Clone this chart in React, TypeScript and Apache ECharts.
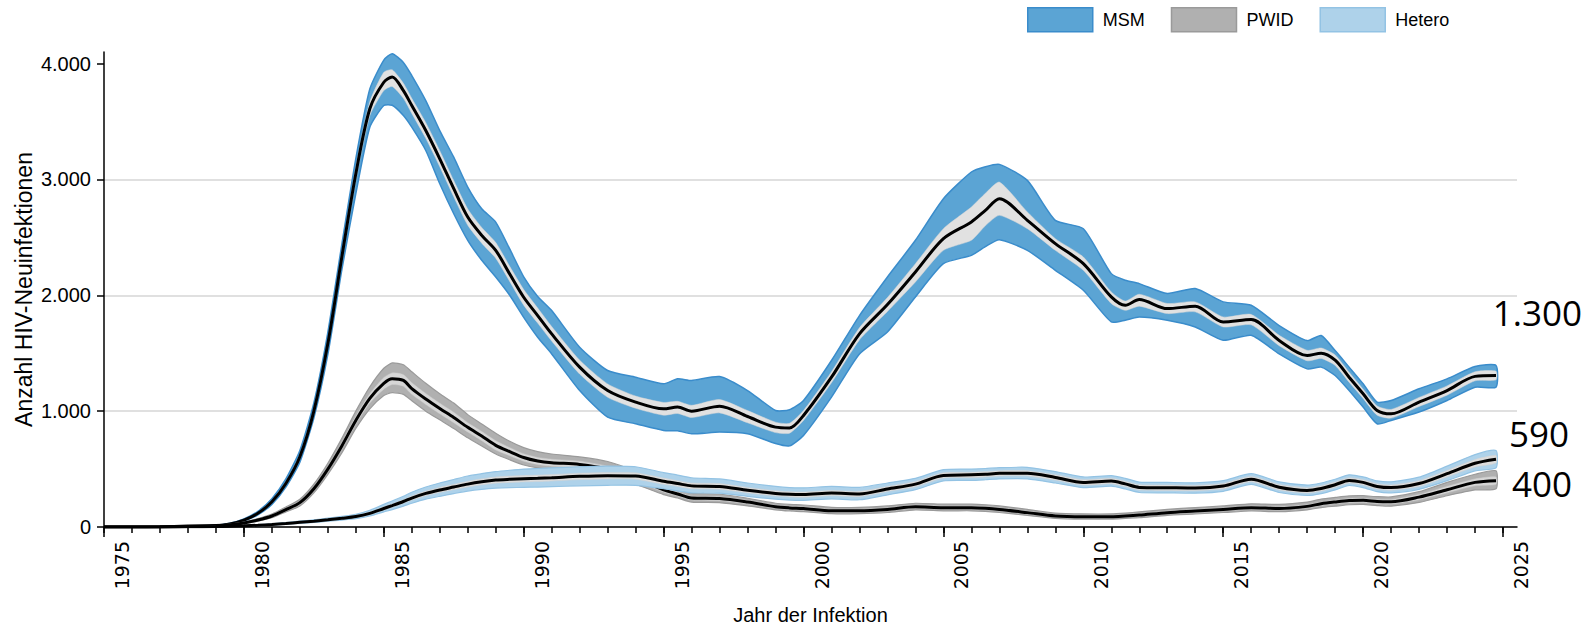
import React, { useEffect, useRef } from "react";
import * as echarts from "echarts";

const YEARS = [1975, 1976, 1977, 1978, 1979, 1979.5, 1980, 1980.5, 1981, 1981.5, 1982, 1982.5, 1983, 1983.5, 1984, 1984.5, 1985, 1985.3, 1985.7, 1986, 1986.5, 1987, 1987.5, 1988, 1988.5, 1989, 1989.5, 1990, 1990.5, 1991, 1992, 1993, 1994, 1995, 1995.5, 1996, 1997, 1998, 1999, 1999.5, 2000, 2001, 2002, 2003, 2004, 2005, 2006, 2006.5, 2007, 2008, 2009, 2010, 2011, 2011.5, 2012, 2013, 2014, 2015, 2016, 2017, 2018, 2018.5, 2019, 2019.5, 2020, 2020.5, 2021, 2022, 2023, 2024, 2024.75];

// MSM
const MSM_MED = [0, 0, 2, 8, 11, 26, 60, 118, 218, 376, 606, 1000, 1583, 2330, 3049, 3610, 3839, 3885, 3767, 3638, 3422, 3178, 2920, 2675, 2517, 2388, 2184, 1983, 1825, 1667, 1380, 1178, 1078, 1020, 1035, 1000, 1043, 954, 862, 855, 963, 1293, 1667, 1920, 2201, 2489, 2633, 2733, 2834, 2647, 2446, 2273, 1986, 1914, 1963, 1885, 1906, 1770, 1790, 1610, 1480, 1500, 1440, 1293, 1150, 1006, 977, 1078, 1178, 1300, 1308];
const MSM_HI = [0, 0, 3, 10, 14, 32, 70, 135, 245, 415, 660, 1070, 1680, 2440, 3180, 3780, 4030, 4085, 4010, 3897, 3681, 3422, 3192, 2934, 2747, 2632, 2400, 2160, 1990, 1868, 1552, 1351, 1293, 1236, 1279, 1264, 1299, 1178, 1006, 1012, 1092, 1437, 1825, 2158, 2475, 2834, 3064, 3110, 3130, 2992, 2647, 2575, 2187, 2130, 2101, 2015, 2058, 1943, 1914, 1739, 1609, 1653, 1523, 1380, 1236, 1078, 1092, 1193, 1279, 1385, 1394];
const MSM_LO = [0, 0, 1, 6, 9, 22, 52, 105, 195, 345, 560, 940, 1490, 2220, 2877, 3451, 3638, 3640, 3552, 3451, 3250, 2963, 2704, 2474, 2302, 2158, 2000, 1810, 1638, 1494, 1178, 948, 891, 833, 830, 805, 819, 805, 720, 700, 790, 1121, 1494, 1684, 1986, 2273, 2345, 2420, 2480, 2388, 2216, 2043, 1770, 1785, 1813, 1785, 1727, 1612, 1655, 1494, 1365, 1380, 1308, 1178, 1035, 891, 920, 992, 1092, 1207, 1207];
const MSM_IHI = [0, 0, 2, 9, 12, 28, 64, 125, 228, 390, 625, 1025, 1610, 2370, 3100, 3670, 3925, 3946, 3830, 3700, 3490, 3248, 2990, 2745, 2585, 2455, 2250, 2050, 1890, 1730, 1440, 1235, 1130, 1075, 1085, 1050, 1100, 1005, 905, 895, 1005, 1340, 1720, 1980, 2273, 2575, 2762, 2880, 2977, 2719, 2489, 2331, 2029, 1950, 2009, 1929, 1943, 1813, 1835, 1655, 1525, 1545, 1485, 1335, 1190, 1045, 1015, 1118, 1218, 1340, 1345];
const MSM_ILO = [0, 0, 2, 7, 10, 24, 56, 112, 208, 362, 588, 975, 1555, 2290, 3000, 3550, 3767, 3802, 3700, 3570, 3355, 3110, 2850, 2605, 2450, 2320, 2120, 1915, 1760, 1605, 1320, 1120, 1025, 965, 980, 945, 985, 900, 815, 810, 920, 1245, 1615, 1860, 2115, 2388, 2475, 2600, 2690, 2575, 2388, 2216, 1929, 1870, 1906, 1842, 1857, 1727, 1745, 1565, 1435, 1455, 1395, 1250, 1110, 965, 940, 1040, 1138, 1262, 1270];

// PWID
const PWID_MED = [0, 0, 1, 4, 12, 20, 35, 60, 95, 150, 210, 330, 500, 700, 920, 1110, 1240, 1280, 1265, 1195, 1105, 1023, 945, 860, 785, 705, 650, 600, 570, 555, 540, 500, 420, 320, 285, 250, 245, 215, 175, 165, 160, 140, 140, 152, 175, 167, 167, 162, 152, 124, 95, 89, 89, 95, 103, 124, 138, 152, 167, 160, 178, 201, 216, 228, 230, 220, 218, 258, 322, 385, 400];
const PWID_HI = [0, 0, 2, 5, 15, 25, 42, 72, 112, 172, 240, 370, 550, 765, 1000, 1210, 1370, 1416, 1400, 1340, 1240, 1150, 1070, 970, 890, 810, 740, 685, 650, 630, 605, 565, 480, 365, 325, 290, 285, 248, 205, 195, 190, 170, 170, 182, 205, 197, 197, 192, 182, 152, 120, 113, 113, 120, 130, 152, 168, 182, 200, 195, 215, 240, 255, 268, 270, 262, 260, 305, 385, 455, 485];
const PWID_LO = [0, 0, 0, 3, 9, 16, 29, 50, 80, 130, 182, 295, 455, 640, 850, 1020, 1135, 1160, 1145, 1090, 1000, 925, 850, 770, 700, 630, 580, 535, 510, 498, 485, 445, 370, 280, 250, 215, 210, 182, 148, 138, 133, 115, 115, 125, 148, 140, 140, 135, 125, 100, 75, 68, 68, 74, 80, 100, 112, 125, 138, 132, 148, 168, 180, 192, 195, 185, 180, 212, 270, 320, 330];
const PWID_IHI = [0, 0, 1, 4, 13, 22, 38, 65, 102, 160, 222, 345, 520, 725, 955, 1150, 1290, 1330, 1315, 1245, 1152, 1068, 990, 900, 825, 745, 685, 632, 600, 585, 568, 525, 445, 338, 302, 266, 261, 229, 187, 177, 172, 152, 152, 164, 187, 179, 179, 174, 164, 135, 105, 99, 99, 105, 114, 135, 150, 164, 180, 173, 192, 216, 232, 245, 247, 238, 236, 280, 350, 415, 432];
const PWID_ILO = [0, 0, 1, 4, 11, 18, 32, 55, 88, 140, 198, 315, 480, 675, 890, 1070, 1190, 1230, 1215, 1145, 1058, 978, 900, 820, 745, 665, 615, 568, 540, 525, 512, 475, 395, 302, 268, 234, 229, 201, 163, 153, 148, 128, 128, 140, 163, 155, 155, 150, 140, 113, 85, 79, 79, 85, 92, 113, 126, 140, 154, 147, 164, 186, 200, 211, 213, 202, 200, 236, 295, 355, 368];

// Hetero
const HET_MED = [0, 0, 0, 2, 4, 6, 10, 15, 22, 30, 40, 50, 62, 75, 90, 118, 160, 185, 220, 250, 290, 320, 345, 370, 390, 405, 412, 417, 420, 425, 437, 443, 440, 395, 375, 355, 350, 318, 290, 282, 280, 293, 285, 328, 370, 445, 450, 455, 463, 463, 428, 385, 397, 372, 342, 339, 336, 353, 413, 343, 316, 333, 365, 402, 385, 350, 340, 375, 460, 550, 585];
const HET_HI = [0, 0, 0, 3, 5, 8, 13, 20, 28, 38, 50, 62, 76, 92, 110, 145, 195, 225, 265, 300, 345, 380, 410, 440, 460, 478, 490, 500, 505, 510, 520, 525, 520, 470, 448, 425, 415, 380, 350, 340, 338, 350, 342, 380, 420, 495, 500, 505, 512, 515, 478, 432, 443, 420, 388, 385, 382, 400, 460, 390, 362, 380, 412, 450, 432, 398, 390, 430, 525, 625, 660];
const HET_LO = [0, 0, 0, 1, 3, 5, 8, 12, 17, 24, 32, 40, 50, 60, 72, 95, 130, 150, 180, 205, 240, 265, 288, 310, 325, 335, 340, 342, 345, 348, 355, 360, 360, 330, 312, 295, 292, 265, 240, 232, 230, 243, 235, 278, 322, 398, 402, 408, 415, 415, 380, 340, 352, 328, 298, 295, 292, 308, 368, 298, 272, 288, 320, 358, 340, 305, 295, 325, 400, 485, 510];
const HET_IHI = [0, 0, 0, 2, 4, 7, 11, 17, 24, 33, 44, 55, 68, 82, 98, 128, 172, 198, 235, 268, 310, 342, 368, 395, 416, 432, 440, 445, 448, 453, 465, 471, 468, 422, 400, 380, 375, 342, 313, 305, 303, 316, 308, 350, 393, 468, 473, 478, 486, 486, 451, 408, 420, 395, 365, 362, 359, 376, 436, 366, 339, 356, 388, 425, 408, 373, 363, 400, 488, 582, 618];
const HET_ILO = [0, 0, 0, 2, 4, 5, 9, 13, 20, 27, 36, 45, 56, 68, 82, 108, 148, 172, 205, 232, 270, 298, 322, 345, 364, 378, 384, 389, 392, 397, 409, 415, 412, 368, 350, 330, 325, 294, 267, 259, 257, 270, 262, 306, 347, 422, 427, 432, 440, 440, 405, 362, 374, 349, 319, 316, 313, 330, 390, 320, 293, 310, 342, 379, 362, 327, 317, 350, 432, 518, 552];

const SERIES_NAMES = ["MSM", "PWID", "Hetero"];
const Y_TICKS = [0, 1000, 2000, 3000, 4000];
const X_LABEL_YEARS = [1975, 1980, 1985, 1990, 1995, 2000, 2005, 2010, 2015, 2020, 2025];
const X_MINOR_YEARS = Array.from({ length: 51 }, (_, i) => 1975 + i);
const END_LABELS = ["1.300", "590", "400"];

const SANS = "'Liberation Sans', Arial, sans-serif";

function fmtDE(v: number): string {
  return String(Math.round(v)).replace(/\B(?=(\d{3})+(?!\d))/g, ".");
}

function band(name: string, lo: number[], hi: number[], fill: string, stroke: string, lw: number, z: number) {
  return {
    type: "custom",
    name,
    silent: true,
    z,
    clip: true,
    itemStyle: { color: fill },
    data: [[YEARS[0], lo[0]]],
    encode: { x: 0, y: 1 },
    renderItem: (_params: any, api: any) => {
      const top = YEARS.map((y, i) => api.coord([y, hi[i]]));
      const bot = YEARS.map((y, i) => api.coord([y, lo[i]])).reverse();
      return {
        type: "polygon",
        shape: { points: top.concat(bot), smooth: 0.2 },
        style: { fill, stroke, lineWidth: lw },
      };
    },
  };
}

function median(name: string, med: number[], z: number) {
  return {
    type: "line",
    name: name + " Median",
    z,
    data: YEARS.map((y, i) => [y, med[i]]),
    smooth: 0.3,
    showSymbol: false,
    silent: true,
    lineStyle: { color: "#000", width: 3 },
  };
}

export default function App() {
  const ref = useRef<HTMLDivElement>(null);
  useEffect(() => {
    if (!ref.current) return;
    const chart = echarts.init(ref.current, null, { renderer: "svg" });
    const axisLineStyle = { color: "#000", width: 1.5 };
    const endStyle = { fontFamily: "'Open Sans', 'Noto Sans', sans-serif", fontSize: 35, fill: "#000", textAlign: "right", textVerticalAlign: "middle" };
    chart.setOption({
      animation: false,
      backgroundColor: "#fff",
      grid: { left: 104, right: 70, top: 52, bottom: 101, outerBoundsMode: "none" },
      legend: {
        left: 1027,
        top: 7,
        padding: 0,
        itemWidth: 65,
        itemHeight: 24,
        itemGap: 26,
        icon: "rect",
        textStyle: { fontFamily: SANS, fontSize: 18, color: "#000", padding: [0, 0, 0, 5] },
        data: [
          { name: SERIES_NAMES[0], itemStyle: { color: "#5ba4d4", borderColor: "#3a8ccb", borderWidth: 1.5 } },
          { name: SERIES_NAMES[1], itemStyle: { color: "#b0b0b0", borderColor: "#9a9a9a", borderWidth: 1.5 } },
          { name: SERIES_NAMES[2], itemStyle: { color: "#aed2ea", borderColor: "#93c3e4", borderWidth: 1.5 } },
        ],
      },
      xAxis: [
        {
          type: "value",
          min: 1975,
          max: 2025.5,
          interval: 5,
          position: "bottom",
          name: "Jahr der Infektion",
          nameLocation: "middle",
          nameGap: 78,
          nameMoveOverlap: false,
          nameTextStyle: { fontFamily: SANS, fontSize: 20, color: "#000" },
          axisLine: { show: true, lineStyle: axisLineStyle },
          axisTick: { show: true, length: 10, customValues: X_LABEL_YEARS, lineStyle: axisLineStyle },
          axisLabel: {
            customValues: X_LABEL_YEARS,
            rotate: 90,
            margin: 14,
            fontFamily: "'DejaVu Sans', Verdana, sans-serif",
            fontSize: 19,
            lineHeight: 36,
            color: "#000",
            // an empty first line pushes each rotated year label to the right of its tick, as in the original
            formatter: (v: number) => "\n" + String(v),
          },
          splitLine: { show: false },
        },
        {
          type: "value",
          min: 1975,
          max: 2025.5,
          interval: 5,
          position: "bottom",
          axisLine: { show: false },
          axisTick: { show: true, length: 6, customValues: X_MINOR_YEARS, lineStyle: axisLineStyle },
          axisLabel: { show: false },
          splitLine: { show: false },
        },
      ],
      yAxis: {
        type: "value",
        min: 0,
        max: 4100,
        interval: 1000,
        name: "Anzahl HIV-Neuinfektionen",
        nameLocation: "middle",
        nameGap: 69,
        nameMoveOverlap: false,
        nameTextStyle: { fontFamily: SANS, fontSize: 23, color: "#000" },
        axisLine: { show: true, lineStyle: axisLineStyle },
        axisTick: { show: true, length: 7, customValues: Y_TICKS, lineStyle: axisLineStyle },
        axisLabel: {
          customValues: Y_TICKS,
          margin: 13,
          fontFamily: SANS,
          fontSize: 20,
          color: "#000",
          formatter: (v: number) => fmtDE(v),
        },
        splitLine: { show: true, showMaxLine: false, lineStyle: { color: "#e0e0e0", width: 2 } },
      },
      graphic: [
        { type: "text", x: 1582, y: 312, style: { ...endStyle, text: END_LABELS[0] } },
        { type: "text", x: 1569, y: 433, style: { ...endStyle, text: END_LABELS[1] } },
        { type: "text", x: 1572, y: 483, style: { ...endStyle, text: END_LABELS[2] } },
      ],
      series: [
        band(SERIES_NAMES[0], MSM_LO, MSM_HI, "#5ba4d4", "#3a8ccb", 1.5, 2),
        band("MSM inner", MSM_ILO, MSM_IHI, "#e1e1e1", "#d6d6d6", 0.5, 3),
        median("MSM", MSM_MED, 4),
        band(SERIES_NAMES[1], PWID_LO, PWID_HI, "#b0b0b0", "#9a9a9a", 1.2, 5),
        band("PWID inner", PWID_ILO, PWID_IHI, "#d6d6d6", "#cccccc", 0.5, 6),
        median("PWID", PWID_MED, 7),
        band(SERIES_NAMES[2], HET_LO, HET_HI, "#aed2ea", "#93c3e4", 1.2, 8),
        band("Hetero inner", HET_ILO, HET_IHI, "#dcdcdc", "#d0d0d0", 0.5, 9),
        median("Hetero", HET_MED, 10),
      ],
    });
    return () => chart.dispose();
  }, []);
  return <div ref={ref} style={{ position: "fixed", left: 0, top: 0, width: 1587, height: 628 }} />;
}
